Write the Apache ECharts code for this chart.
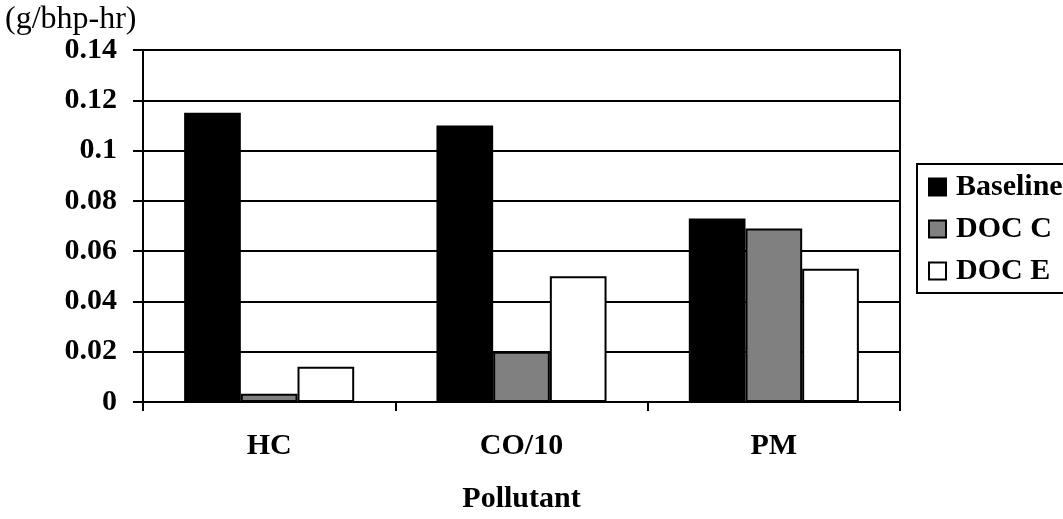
<!DOCTYPE html>
<html>
<head>
<meta charset="utf-8">
<title>Pollutant emissions</title>
<script src="https://cdn.jsdelivr.net/npm/echarts@6/dist/echarts.min.js"></script>
<style>
  html, body { margin: 0; padding: 0; background: #fff; }
  #chart { width: 1063px; height: 519px; }
</style>
</head>
<body>
<div id="chart"></div>
<script>
// Emission results per pollutant (g/bhp-hr)
const categories = ['HC', 'CO/10', 'PM'];
const seriesNames = ['Baseline', 'DOC C', 'DOC E'];
const baseline = [0.115, 0.110, 0.073];
const docC = [0.0033, 0.020, 0.069];
const docE = [0.014, 0.050, 0.053];
const yTickLabels = ['0', '0.02', '0.04', '0.06', '0.08', '0.1', '0.12', '0.14'];

const FONT = 'Liberation Serif';
const chart = echarts.init(document.getElementById('chart'), null, { renderer: 'canvas' });

function barSeries(name, data, fill) {
  return {
    name: name,
    type: 'bar',
    data: data,
    barGap: '0%',
    barCategoryGap: '32.6%',
    itemStyle: { color: fill, borderColor: '#000', borderWidth: 2 },
    emphasis: { disabled: true }
  };
}

chart.setOption({
  animation: false,
  backgroundColor: '#fff',
  title: {
    text: '(g/bhp-hr)',
    left: 5,
    top: 4,
    padding: 0,
    textStyle: { fontFamily: FONT, fontSize: 32, fontWeight: 'normal', color: '#000' }
  },
  grid: {
    left: 143, right: 163, top: 50, bottom: 111.5,
    show: true, borderColor: '#000', borderWidth: 2, backgroundColor: 'transparent'
  },
  legend: {
    data: seriesNames,
    orient: 'vertical',
    left: 917,
    top: 164,
    padding: [7, 40, 6, 11],
    itemGap: 10,
    itemWidth: 17,
    itemHeight: 17,
    icon: 'rect',
    borderColor: '#000',
    borderWidth: 2,
    selectedMode: false,
    textStyle: {
      fontFamily: FONT, fontSize: 30, fontWeight: 'bold', color: '#000',
      lineHeight: 32, padding: [0, 0, 0, 5]
    }
  },
  xAxis: {
    type: 'category',
    data: categories,
    name: 'Pollutant',
    nameLocation: 'middle',
    nameGap: 82,
    nameTextStyle: { fontFamily: FONT, fontSize: 30, fontWeight: 'bold', color: '#000' },
    axisLine: { lineStyle: { color: '#000', width: 2 } },
    axisTick: { show: true, length: 9, lineStyle: { color: '#000', width: 2 } },
    axisLabel: { margin: 29, fontFamily: FONT, fontSize: 30, fontWeight: 'bold', color: '#000' },
    splitLine: { show: false }
  },
  yAxis: {
    type: 'value',
    min: 0,
    max: 0.14,
    interval: 0.02,
    axisLine: { show: true, lineStyle: { color: '#000', width: 2 } },
    axisTick: { show: true, length: 10, lineStyle: { color: '#000', width: 2 } },
    axisLabel: {
      margin: 26,
      fontFamily: FONT, fontSize: 30, fontWeight: 'bold', color: '#000',
      formatter: function (v) { return yTickLabels[Math.round(v / 0.02)]; }
    },
    splitLine: { show: true, lineStyle: { color: '#000', width: 2 } }
  },
  series: [
    barSeries(seriesNames[0], baseline, '#000000'),
    barSeries(seriesNames[1], docC, '#808080'),
    barSeries(seriesNames[2], docE, '#ffffff')
  ]
});
</script>
</body>
</html>
